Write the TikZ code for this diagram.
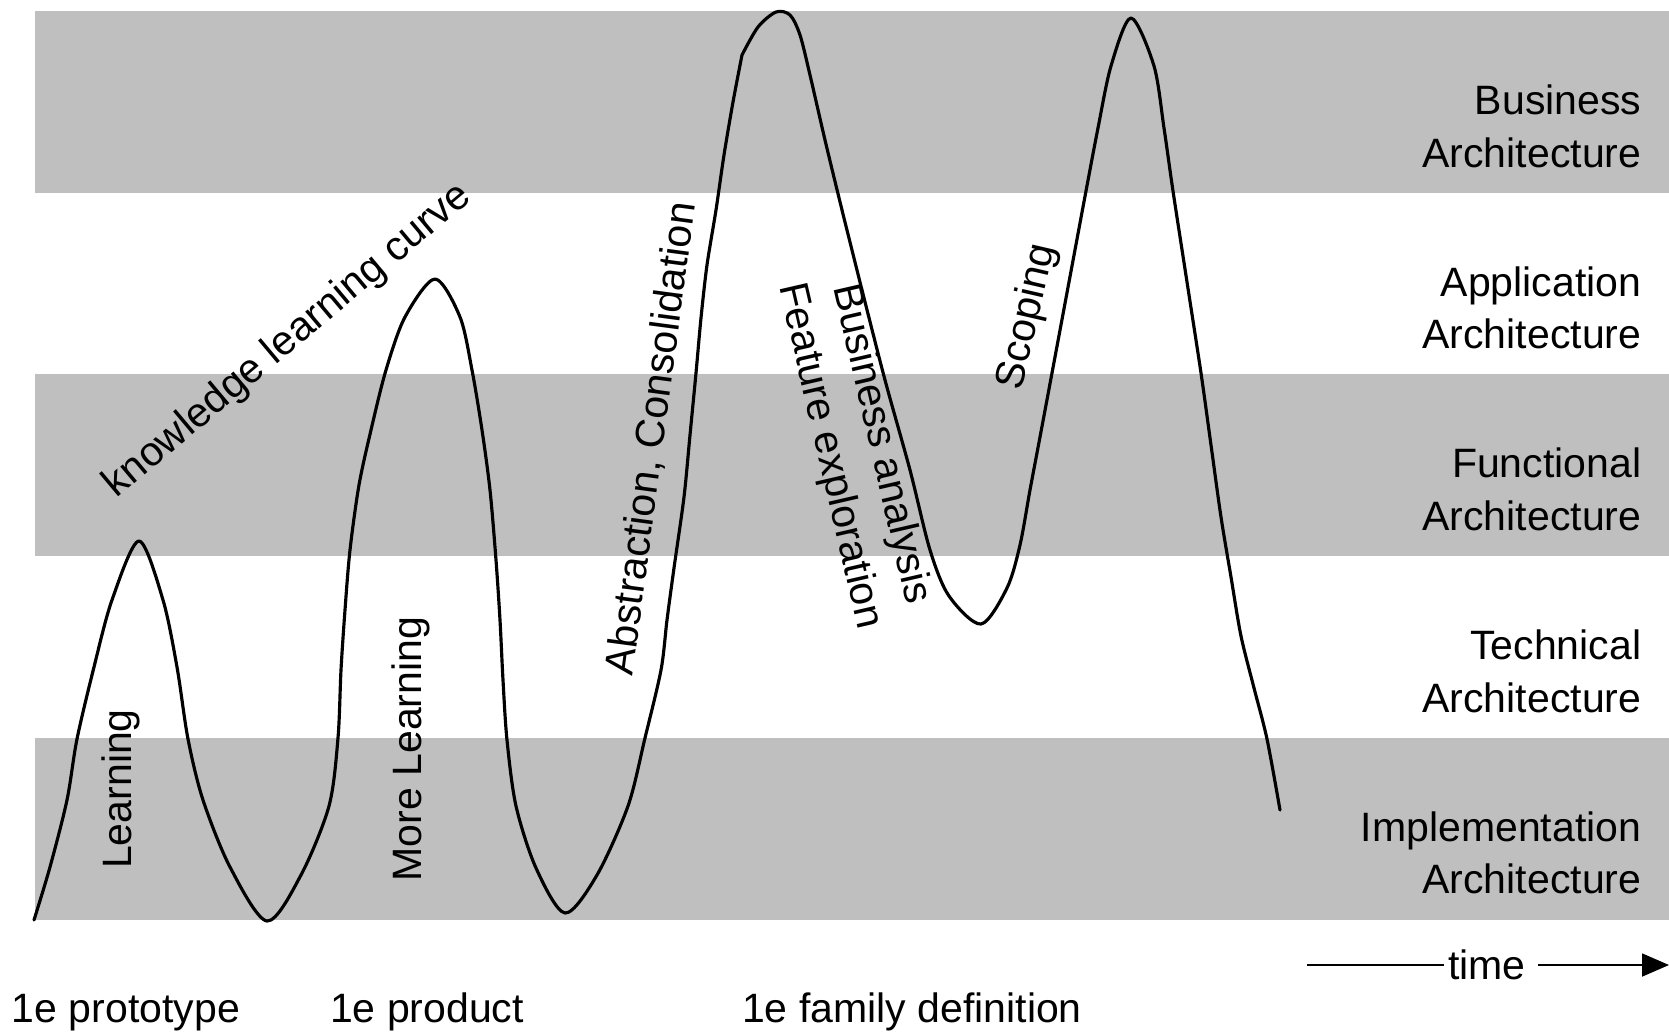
\documentclass[tikz,border=0pt]{standalone}
\usepackage{fontspec}
\setmainfont{Liberation Sans}
\usetikzlibrary{arrows.meta}
\definecolor{bandgray}{RGB}{191,191,191}

\begin{document}
\begin{tikzpicture}[x=0.1mm, y=-0.1mm,
        every node/.style={inner sep=0pt, font=\fontsize{11.67}{15}\selectfont},
        layer/.style={anchor=east, align=right},
        phase/.style={anchor=base},
        curve/.style={line width=0.9pt, line join=round, line cap=round},
        timeline/.style={line width=0.5pt}]
    \useasboundingbox (0,0) rectangle (1669,1034);
    \foreach \y in {11, 374.4, 737.8}
        \fill[bandgray] (35,\y) rectangle (1669,\y+181.7);
    \foreach \lay [count=\i from 0] in {Business, Application, Functional, Technical, Implementation}
        \node[layer] (layer\i) at (1642,126+181.7*\i) {\lay\\Architecture};
    \draw[curve] plot[smooth] coordinates {(34,920) (50,867) (67,800) (77,739) (94,667) (112,600)
        (139,541) (163,600) (177,667) (188,739) (203,800) (230,867) (267,921) (301,875) (329,806)
        (338,738) (341,670) (345,610) (350,550) (359,485) (371,430) (386,370) (405,317) (435,279)
        (460,317) (472,370) (482,430) (490,490) (496,560) (500,620) (503,680) (507,740) (516,806)
        (536,868) (565,913) (597,875) (628,806) (645,738) (661,670) (667,620) (674,568) (684,497)
        (690,435) (696,373) (701,318) (707,265) (716,210) (724,155) (733,102) (742,55)}
        -- plot[smooth] coordinates {(742,55) (758,27) (776,12) (790,15) (800,35) (810,75)
        (825,140) (842,210) (862,290) (885,380) (910,470) (930,550) (949,596) (981,624)
        (1007,588) (1020,545) (1030,490) (1040,437) (1052,373) (1069,282) (1086,191) (1098,128)
        (1111,66) (1131,18) (1154,66) (1164,128) (1173,191) (1187,282) (1201,373) (1211,445)
        (1221,517) (1231,577) (1241,636) (1254,688) (1267,739) (1280,810)};
    \node[phase, rotate=90] (learn) at (131,789) {Learning};
    \node[phase, rotate=90] (morelearn) at (421,749) {More Learning};
    \node[phase, rotate=40] (knowcurve) at (295,349) {knowledge learning curve};
    \node[phase, rotate=82.4] (abstract) at (664,440) {Abstraction, Consolidation};
    \node[rotate=-77, align=center] (business) at (855,450) {Business analysis\\Feature exploration};
    \node[phase, rotate=77] (scoping) at (1038,319) {Scoping};
    \node[phase] (proto) at (126,1022) {1e prototype};
    \node[phase] (product) at (427,1022) {1e product};
    \node[phase] (family) at (912,1022) {1e family definition};
    \coordinate (tstart) at (1307,965);
    \coordinate (tend) at (1669,965);
    \node[inner sep=1pt] (time) at (1487,965) {time};
    \draw[timeline] (tstart) -- (time);
    \draw[timeline, -{Triangle[length=2.7mm, width=2.3mm]}] ([xshift=0.8mm]time.east) -- (tend);
\end{tikzpicture}
\end{document}
